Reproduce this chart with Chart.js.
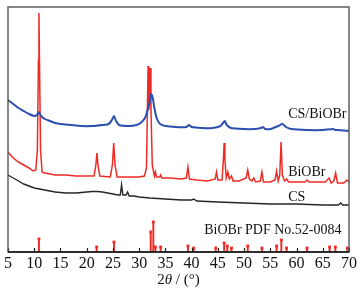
<!DOCTYPE html>
<html><head><meta charset="utf-8">
<script src="https://cdn.jsdelivr.net/npm/chart.js@4.4.1/dist/chart.umd.min.js"></script>
<style>html,body{margin:0;padding:0;background:#fff;}canvas{display:block;}</style>
</head><body>
<canvas id="c" width="363" height="294" style="width:363px;height:294px"></canvas>
<script>
// x-axis ticks
const xTicks = [5,10,15,20,25,30,35,40,45,50,55,60,65,70];
// CS/BiOBr composite (offset intensity, a.u.)
const compTheta = [5,6,7,8,9,10,10.5,10.9,11.3,12,13,14,15,17,19,21,23,24.2,24.8,25.2,25.6,26.2,28,29.5,30.5,31.2,31.7,32,32.3,32.6,32.9,33.4,34,35,37,39,39.5,40,42,44,45.5,46,46.3,46.7,47.5,50,52,53.2,53.6,54,55,56.5,57.3,58,59,62,65,67,67.4,67.8,70];
const compInt   = [152,148,144,141,138,136,137,140,136,133,131,129,128,127,126,126,127,128,132,136,131,127,126,127,130,135,144,150,158,154,144,133,128,126,125,125,127,125,124,124,126,129,131,127,124,123,123,124,125,123,123,126,128,125,123,122,122,123,122,122,121];
// BiOBr
const biTheta = [5,6,7,8,9,9.8,10.3,10.6,10.8,10.9,11,11.2,11.5,12,14,16,18,20,21.4,21.75,21.95,22.15,22.5,24.5,24.9,25.15,25.4,25.8,28,30,31,31.4,31.6,31.7,31.85,31.95,32.1,32.25,32.5,32.9,33.1,33.3,33.9,34.1,34.3,36,38,39,39.3,39.6,41,43,44.5,44.75,45,45.8,46.05,46.2,46.35,46.6,46.9,47.2,47.6,47.9,49,50.4,50.7,51,51.5,51.85,52.2,53.1,53.4,53.7,55,55.9,56.2,56.5,56.8,57.05,57.3,57.7,58.1,58.5,61.6,62,62.4,65.5,66.2,66.6,67.1,67.45,67.8,69,69.6,70];
const biInt   = [100,94,90,87,84,81,82,102,192,239,192,102,80,79,77,77,76,76,76,87,99,87,76,75,87,109,87,75,75,75,76,84,152,186,142,152,184,142,87,76,80,75,75,77,74,74,73,74,85,73,72,71,73,80,72,72,92,109,92,74,80,73,76,71,71,74,82,73,71,74,70,71,80,70,70,72,81,71,77,110,77,71,73,70,70,72,70,70,74,69,71,79,69,69,72,70];
// CS
const csTheta = [5,6,7,8,9,10,11,12,13,14,15,16,17,18,19,20,21,22,23,24,25,26,26.4,26.65,26.9,27.5,27.8,28.1,29,30,32,35,38,40,40.4,41,45,50,55,60,65,68,68.4,68.8,70];
const csInt   = [77,74,71,68,66,64,63,62,61,60,59.5,59,59,59,59.5,60,60.5,60.5,60,59,58,57,57,67,57,57,60,56,56,55,54,53,52,52,53,51,50,49,48,48,47,47,49,47,47];
// BiOBr PDF No.52-0084 reference lines
const pdfTheta = [10.9,21.9,25.2,32.2,32.7,33.1,34.1,39.3,40.4,44.6,46.2,46.8,47.6,50.7,53.4,56.2,57.1,58.1,62.0,66.3,67.4,69.7];
const pdfInt   = [13,5,10,20,30,5,5,6,4,4,9,6,4,6,4,6,12,4,4,5,5,4];

const pts = (xs, ys) => xs.map((x,i)=>({x, y: ys[i]}));
const SERIF = '"Liberation Serif", "DejaVu Serif", serif';

const decor = {
  id: 'decor',
  afterDraw(chart) {
    const ctx = chart.ctx, a = chart.chartArea, xs = chart.scales.x, ys = chart.scales.y;
    ctx.save();
    // inward tick marks
    ctx.strokeStyle = '#222'; ctx.lineWidth = 1.2;
    xTicks.forEach(v => {
      const px = Math.round(xs.getPixelForValue(v)) + 0.5;
      ctx.beginPath(); ctx.moveTo(px, a.bottom); ctx.lineTo(px, a.bottom - 4); ctx.stroke();
    });
    // frame
    ctx.strokeStyle = '#555'; ctx.lineWidth = 1.4;
    ctx.strokeRect(a.left, a.top, a.right - a.left, a.bottom - a.top);
    ctx.strokeStyle = '#111'; ctx.lineWidth = 1.5;
    ctx.beginPath(); ctx.moveTo(a.left, a.bottom); ctx.lineTo(a.right, a.bottom); ctx.stroke();
    // curve labels
    ctx.fillStyle = '#111'; ctx.textBaseline = 'alphabetic'; ctx.textAlign = 'left';
    ctx.font = '14px ' + SERIF;
    const lab = [['CS/BiOBr', 58.4, 133.7], ['BiOBr', 58.4, 76], ['CS', 58.4, 51], ['BiOBr PDF No.52-0084', 42.4, 17.7]];
    lab.forEach(([t, x, y]) => ctx.fillText(t, xs.getPixelForValue(x), ys.getPixelForValue(y)));
    // axis title 2θ / (°)
    const p1 = '2', p3 = ' / (°)';
    ctx.font = 'italic 15px ' + SERIF; const wT = ctx.measureText('θ').width;
    ctx.font = '15px ' + SERIF; const w1 = ctx.measureText(p1).width, w3 = ctx.measureText(p3).width;
    let x0 = (a.left + a.right) / 2 - (w1 + wT + w3) / 2; const yb = 284;
    ctx.fillText(p1, x0, yb); x0 += w1;
    ctx.font = 'italic 15px ' + SERIF; ctx.fillText('θ', x0, yb); x0 += wT;
    ctx.font = '15px ' + SERIF; ctx.fillText(p3, x0, yb);
    ctx.restore();
  }
};

new Chart(document.getElementById('c'), {
  data: {
    datasets: [
      { type: 'scatter', data: pts(pdfTheta, pdfInt), pointStyle: 'rect', pointRadius: 2, backgroundColor: '#ee2b25', borderColor: '#ee2b25', borderWidth: 0, order: 0 },
      { type: 'bar', data: pdfTheta.map((x,i)=>({x, y:[0, pdfInt[i]]})), backgroundColor: '#ee2b25', barThickness: 1.3, grouped: false, order: 1 },
      { type: 'line', data: pts(compTheta, compInt), borderColor: '#2b4fae', borderWidth: 2, pointRadius: 0, tension: 0.2, order: 2 },
      { type: 'line', data: pts(biTheta, biInt), borderColor: '#ee2b25', borderWidth: 1.5, pointRadius: 0, tension: 0, order: 3 },
      { type: 'line', data: pts(csTheta, csInt), borderColor: '#262626', borderWidth: 1.4, pointRadius: 0, tension: 0, order: 4 }
    ]
  },
  options: {
    responsive: false, animation: false, devicePixelRatio: 1,
    layout: { padding: { left: 8, right: 14, top: 7, bottom: 0 } },
    plugins: { legend: { display: false }, tooltip: { enabled: false } },
    scales: {
      x: {
        type: 'linear', min: 5, max: 70, offset: false,
        afterBuildTicks: s => { s.ticks = xTicks.map(v => ({ value: v })); },
        afterFit: s => { s.height = 42; },
        grid: { display: false, drawTicks: false, offset: false },
        border: { display: false },
        ticks: { color: '#111', font: { family: SERIF, size: 16 }, padding: 2, maxRotation: 0, autoSkip: false }
      },
      y: { type: 'linear', min: 0, max: 245, display: false }
    }
  },
  plugins: [decor]
});
</script>
</body></html>
